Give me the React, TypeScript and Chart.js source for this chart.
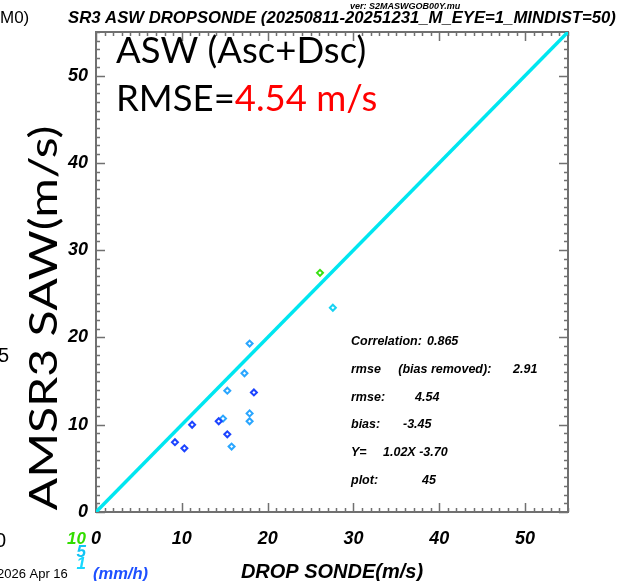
import React, { useEffect, useRef } from "react";
import { Chart, registerables } from "chart.js";

Chart.register(...registerables);

// ---- data ----
const sondeWind = [26.1, 27.6, 17.9, 17.3, 15.3, 18.4, 17.9, 17.9, 14.8, 14.3, 11.2, 15.3, 9.2, 10.3, 15.8];
const amsrWind = [27.4, 23.4, 19.3, 15.9, 13.9, 13.7, 11.3, 10.4, 10.7, 10.4, 10.0, 8.9, 8.0, 7.3, 7.5];
// rain-rate class of each point: 0 = <1, 1 = 1-5, 2 = 5-10, 3 = >=10 (mm/h)
const rainClass = [3, 2, 1, 1, 1, 0, 1, 1, 1, 0, 0, 0, 0, 0, 1];
const classColors = ["#1c44ff", "#2aa6ff", "#18d2f2", "#36e010"];
const axisTicks = [0, 10, 20, 30, 40, 50];
const axisMin = 0;
const axisMax = 55;
const oneToOne = [0, 55];
const statsLines = [
  ["Correlation:", "0.865"],
  ["rmse     (bias removed):", "2.91"],
  ["rmse:", "4.54"],
  ["bias:", "-3.45"],
  ["Y=", "1.02X -3.70"],
  ["plot:", "45"],
];
const legendLabels = ["10", "5", "1"];
const legendColors = ["#33dd00", "#12c4f4", "#18d8ff"];

const IDL = "'Liberation Sans', Arial, sans-serif";
const BIG = "Lato, 'Open Sans', sans-serif";

const decorPlugin = {
  id: "decor",
  beforeDatasetsDraw(chart: any) {
    const { ctx, chartArea: a, scales } = chart;
    const xs = scales.x;
    const ys = scales.y;
    ctx.save();
    ctx.strokeStyle = "#707070";
    ctx.lineWidth = 1.5;
    ctx.beginPath();
    for (let v = axisMin; v <= axisMax; v++) {
      const len = v % 10 === 0 ? 9 : 4;
      const px = Math.round(xs.getPixelForValue(v)) + 0.5;
      ctx.moveTo(px, a.bottom);
      ctx.lineTo(px, a.bottom - len);
      ctx.moveTo(px, a.top);
      ctx.lineTo(px, a.top + len);
      const py = Math.round(ys.getPixelForValue(v)) + 0.5;
      ctx.moveTo(a.left, py);
      ctx.lineTo(a.left + len, py);
      ctx.moveTo(a.right, py);
      ctx.lineTo(a.right - len, py);
    }
    ctx.stroke();
    ctx.lineWidth = 2;
    ctx.strokeRect(a.left, a.top, a.right - a.left, a.bottom - a.top);
    ctx.restore();
  },
  afterDraw(chart: any) {
    const { ctx } = chart;
    ctx.save();
    ctx.textBaseline = "alphabetic";
    ctx.textAlign = "left";
    // title
    ctx.fillStyle = "#000";
    ctx.font = `italic bold 16.7px ${IDL}`;
    ctx.fillText("SR3 ASW DROPSONDE (20250811-20251231_M_EYE=1_MINDIST=50)", 68, 23);
    ctx.font = `italic bold 9px ${IDL}`;
    ctx.fillText("ver: S2MASWGOB00Y.mu", 350, 9);
    ctx.font = `17px ${IDL}`;
    ctx.fillText("M0)", 0, 23);
    // big overlay
    ctx.font = `36.5px ${BIG}`;
    ctx.fillText("ASW (Asc+Dsc)", 116, 63);
    const r1 = "RMSE=";
    ctx.fillText(r1, 116, 111);
    const w1 = ctx.measureText(r1).width;
    ctx.fillStyle = "#ff0000";
    ctx.fillText("4.54 m/s", 116 + w1, 111);
    // y title (stretched along its length)
    ctx.fillStyle = "#000";
    ctx.save();
    ctx.translate(57, 318);
    ctx.rotate(-Math.PI / 2);
    ctx.textAlign = "center";
    ctx.font = `38px ${BIG}`;
    const yt = "AMSR3 SAW(m/s)";
    const ytw = ctx.measureText(yt).width;
    ctx.scale(385 / ytw, 1);
    ctx.fillText(yt, 0, 0);
    ctx.restore();
    // x title
    ctx.textAlign = "center";
    ctx.font = `italic bold 20px ${IDL}`;
    ctx.fillText("DROP SONDE(m/s)", 332, 578);
    // stats
    ctx.textAlign = "left";
    ctx.font = `italic bold 12.5px ${IDL}`;
    const valX = [427, 513, 415, 403, 383, 422];
    statsLines.forEach((s, i) => {
      const y = 345 + i * 27.8;
      ctx.fillText(s[0], 351, y);
      ctx.fillText(s[1], valX[i], y);
    });
    // legend
    ctx.font = `italic bold 17px ${IDL}`;
    ctx.textAlign = "right";
    const ly = [544, 557, 569];
    legendLabels.forEach((t, i) => {
      ctx.fillStyle = legendColors[i];
      ctx.fillText(t, 86, ly[i]);
    });
    ctx.textAlign = "left";
    ctx.fillStyle = "#1e50ff";
    ctx.font = `italic bold 16.5px ${IDL}`;
    ctx.fillText("(mm/h)", 93, 579);
    ctx.fillStyle = "#000";
    ctx.font = `13px ${IDL}`;
    ctx.fillText("2026 Apr 16", -3, 578);
    ctx.font = `20px ${IDL}`;
    ctx.fillText("5", -2, 362);
    ctx.fillText("0", -5, 547);
    ctx.restore();
  },
};

export default function App() {
  const ref = useRef<HTMLCanvasElement | null>(null);
  useEffect(() => {
    if (!ref.current) return;
    const pts = sondeWind.map((x, i) => ({ x, y: amsrWind[i] }));
    const colors = rainClass.map((c) => classColors[c]);
    const tickFont = { family: IDL, size: 18, weight: "bold" as const, style: "italic" as const };
    const chart = new Chart(ref.current, {
      type: "scatter",
      data: {
        datasets: [
          {
            type: "line",
            data: oneToOne.map((v) => ({ x: v, y: v })),
            borderColor: "#00e6f0",
            borderWidth: 3.5,
            pointRadius: 0,
            fill: false,
          } as any,
          {
            data: pts,
            pointStyle: "rectRot",
            pointRadius: 3,
            pointBorderWidth: 2,
            pointBorderColor: colors,
            pointBackgroundColor: "#ffffff",
          } as any,
        ],
      },
      options: {
        animation: false,
        responsive: false,
        devicePixelRatio: 1,
        layout: { padding: { left: 0, top: 32, right: 52, bottom: 0 } },
        plugins: { legend: { display: false }, tooltip: { enabled: false } },
        scales: {
          x: {
            type: "linear",
            min: axisMin,
            max: axisMax,
            grid: { display: false },
            border: { display: false },
            afterBuildTicks: (s: any) => {
              s.ticks = axisTicks.map((v) => ({ value: v }));
            },
            afterFit: (s: any) => {
              s.height = 69;
            },
            ticks: { color: "#000", font: tickFont, padding: 8, maxRotation: 0 },
          },
          y: {
            type: "linear",
            min: axisMin,
            max: axisMax,
            grid: { display: false },
            border: { display: false },
            afterBuildTicks: (s: any) => {
              s.ticks = axisTicks.map((v) => ({ value: v }));
            },
            afterFit: (s: any) => {
              s.width = 96;
            },
            ticks: { color: "#000", font: tickFont, padding: 0 },
          },
        },
      },
      plugins: [decorPlugin],
    });
    return () => chart.destroy();
  }, []);
  return (
    <div style={{ position: "absolute", left: 0, top: 0, width: 620, height: 581, background: "#fff" }}>
      <canvas ref={ref} width={620} height={581} style={{ display: "block" }} />
    </div>
  );
}
